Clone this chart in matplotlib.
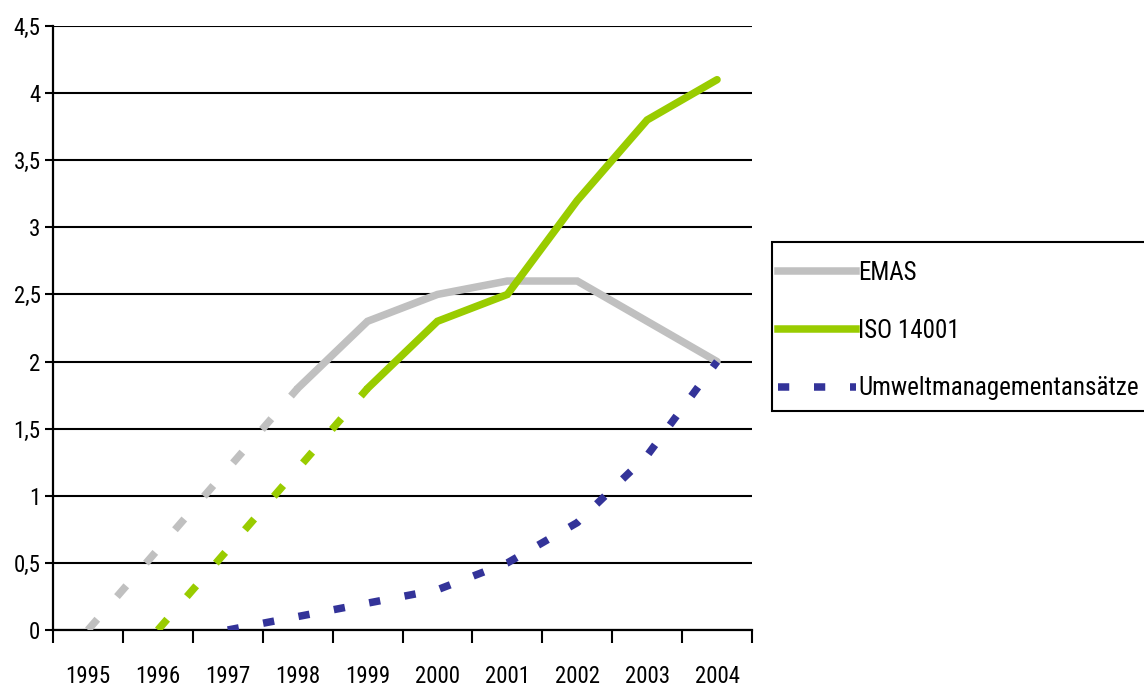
import matplotlib
matplotlib.use("Agg")
import matplotlib.pyplot as plt
from matplotlib.lines import Line2D
from matplotlib.patches import Rectangle
from matplotlib.ticker import FixedLocator

plt.rcParams['font.family'] = ['Roboto Condensed', 'DejaVu Sans']

years = ["1995", "1996", "1997", "1998", "1999", "2000", "2001", "2002", "2003", "2004"]
emas = [0.0, 0.6, 1.2, 1.8, 2.3, 2.5, 2.6, 2.6, 2.3, 2.0]
iso14001 = [None, 0.0, 0.6, 1.2, 1.8, 2.3, 2.5, 3.2, 3.8, 4.1]
umwelt = [None, None, 0.0, 0.1, 0.2, 0.3, 0.5, 0.8, 1.3, 2.0]
emas_solid_from = 3      # EMAS is drawn dashed up to 1998
iso_solid_from = 4       # ISO 14001 is drawn dashed up to 1999
y_ticks = [0, 0.5, 1, 1.5, 2, 2.5, 3, 3.5, 4, 4.5]
y_tick_labels = ["0", "0,5", "1", "1,5", "2", "2,5", "3", "3,5", "4", "4,5"]
labels = ["EMAS", "ISO 14001", "Umweltmanagementansätze"]

c_emas = "#C0C0C0"
c_iso = "#99CC00"
c_umw = "#333399"
lw = 5.4
dashed = (0, (1.9, 4.0))
dotted = (0, (1.5, 3.3))

W, H = 1144, 690
fig = plt.figure(figsize=(W / 100, H / 100), dpi=100)
ax = fig.add_axes([53 / W, 60 / H, 699 / W, 604 / H])

x = list(range(len(years)))


def pts(vals, start, stop):
    xs = [i for i in range(start, stop) if vals[i] is not None]
    return xs, [vals[i] for i in xs]


# EMAS
xs, ys = pts(emas, 0, emas_solid_from + 1)
ax.plot(xs, ys, color=c_emas, lw=lw, linestyle=dashed, dash_capstyle="butt", zorder=3)
xs, ys = pts(emas, emas_solid_from, len(years))
ax.plot(xs, ys, color=c_emas, lw=lw, solid_capstyle="round", solid_joinstyle="miter", zorder=3)

# ISO 14001
xs, ys = pts(iso14001, 0, iso_solid_from + 1)
ax.plot(xs, ys, color=c_iso, lw=lw, linestyle=dashed, dash_capstyle="butt", zorder=4)
xs, ys = pts(iso14001, iso_solid_from, len(years))
ax.plot(xs, ys, color=c_iso, lw=lw, solid_capstyle="round", solid_joinstyle="miter", zorder=4)

# Umweltmanagementansätze
xs, ys = pts(umwelt, 0, len(years))
ax.plot(xs, ys, color=c_umw, lw=lw, linestyle=dotted, dash_capstyle="butt", zorder=5)

ax.set_xlim(-0.5, len(years) - 0.5)
ax.set_ylim(0, 4.5)

ax.set_yticks(y_ticks)
ax.set_yticklabels(y_tick_labels)
ax.yaxis.grid(True, color="black", lw=1.5)
ax.set_axisbelow(True)

ax.set_xticks(x)
ax.set_xticklabels(years)
ax.xaxis.set_minor_locator(FixedLocator([i - 0.5 for i in range(len(years) + 1)]))
ax.tick_params(axis="x", which="major", length=0, pad=25, labelsize=16.5)
ax.tick_params(axis="x", which="minor", length=9, width=1.5, color="black")
ax.tick_params(axis="y", length=6, width=1.5, pad=3, labelsize=16.5)

for s in ("top", "right"):
    ax.spines[s].set_visible(False)
ax.spines["left"].set_linewidth(1.6)
ax.spines["bottom"].set_linewidth(1.6)

# legend box, running off the right edge of the figure
fig.patches.append(Rectangle((772 / W, (H - 411) / H), 400 / W, 169 / H,
                             transform=fig.transFigure, facecolor="white",
                             edgecolor="black", lw=1.5, zorder=1))

handles = [
    Line2D([], [], color=c_emas, lw=lw),
    Line2D([], [], color=c_iso, lw=lw),
    Line2D([], [], color=c_umw, lw=lw, linestyle=dotted, dash_capstyle="butt"),
]
leg = fig.legend(handles, labels, loc="upper left",
                 bbox_to_anchor=(778 / W, (H - 261) / H),
                 fontsize=18, frameon=False,
                 handlelength=3.1, handletextpad=0.1, labelspacing=1.35,
                 borderpad=0, borderaxespad=0)
leg.set_zorder(2)

fig.savefig("out.png", dpi=100)
